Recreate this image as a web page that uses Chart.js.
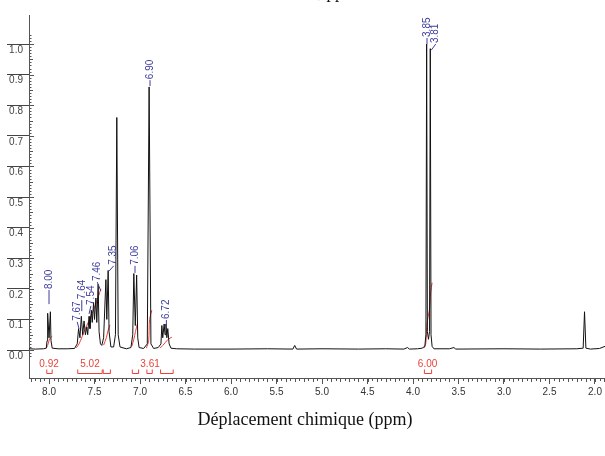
<!DOCTYPE html>
<html>
<head>
<meta charset="utf-8">
<script src="https://cdn.jsdelivr.net/npm/chart.js@4.4.0/dist/chart.umd.min.js"></script>
<style>
html, body { margin: 0; padding: 0; background: #fff; }
canvas { display: block; }
</style>
</head>
<body>
<canvas id="spectre" width="605" height="456"></canvas>
<script>
// spectre RMN 1H : déplacement (ppm) / intensité relative
const deplacement = [
  8.22, 8.15, 8.06, 8.03, 8.022, 8.015, 8.0, 7.985, 7.978, 7.965, 7.90, 7.80, 7.72,
  7.69, 7.675, 7.66, 7.645, 7.63, 7.615, 7.60, 7.585, 7.575, 7.56, 7.55, 7.535, 7.525,
  7.51, 7.50, 7.485, 7.475, 7.46, 7.45, 7.435, 7.42, 7.40, 7.375, 7.365, 7.35, 7.34,
  7.32, 7.29, 7.27, 7.255, 7.24, 7.22, 7.15, 7.10, 7.08, 7.068, 7.052, 7.037, 7.025,
  7.01, 6.96, 6.92, 6.90, 6.88, 6.85, 6.80, 6.77, 6.76, 6.75, 6.735, 6.725, 6.715,
  6.705, 6.695, 6.68, 6.66, 6.60, 6.40, 6.00, 5.60, 5.32, 5.30, 5.28, 5.00, 4.60,
  4.30, 4.10, 4.06, 4.04, 3.95, 3.90, 3.87, 3.858, 3.85, 3.842, 3.83, 3.818, 3.81,
  3.802, 3.79, 3.77, 3.60, 3.55, 3.53, 3.00, 2.60, 2.20, 2.13, 2.115, 2.10, 2.05,
  1.95, 1.89
];
const intensite = [
  0.004, 0.003, 0.004, 0.006, 0.03, 0.12, 0.04, 0.125, 0.03, 0.006, 0.004, 0.004, 0.005,
  0.02, 0.07, 0.04, 0.11, 0.05, 0.095, 0.05, 0.075, 0.05, 0.11, 0.07, 0.13, 0.09,
  0.155, 0.10, 0.17, 0.09, 0.215, 0.06, 0.02, 0.015, 0.04, 0.23, 0.10, 0.26, 0.06,
  0.01, 0.01, 0.05, 0.76, 0.05, 0.01, 0.004, 0.008, 0.05, 0.25, 0.08, 0.245, 0.04,
  0.008, 0.005, 0.02, 0.86, 0.02, 0.005, 0.008, 0.02, 0.08, 0.04, 0.085, 0.05, 0.085,
  0.04, 0.07, 0.02, 0.006, 0.004, 0.003, 0.003, 0.004, 0.003, 0.015, 0.003, 0.004, 0.003,
  0.004, 0.003, 0.008, 0.003, 0.004, 0.006, 0.012, 0.05, 1.0, 0.06, 0.035, 0.06, 0.985,
  0.05, 0.012, 0.004, 0.004, 0.008, 0.003, 0.004, 0.003, 0.004, 0.006, 0.125, 0.006, 0.003,
  0.005, 0.012
];

// courbes d'intégration (rouge)
const integralePpm = [
  [8.03, 8.015, 8.0, 7.985, 7.965],
  [7.70, 7.67, 7.60, 7.54, 7.48, 7.43],
  [7.40, 7.37, 7.35, 7.33],
  [7.09, 7.068, 7.05, 7.03],
  [6.93, 6.905, 6.895, 6.87],
  [6.78, 6.75, 6.72, 6.69, 6.65],
  [3.88, 3.86, 3.845, 3.82, 3.805, 3.79]
];
const integraleValeur = [
  [0.006, 0.015, 0.03, 0.04, 0.045],
  [0.007, 0.02, 0.07, 0.11, 0.155, 0.20],
  [0.016, 0.04, 0.065, 0.082],
  [0.012, 0.035, 0.06, 0.085],
  [0.006, 0.03, 0.10, 0.13],
  [0.006, 0.015, 0.025, 0.035, 0.042],
  [0.006, 0.02, 0.09, 0.13, 0.19, 0.22]
];

// crochets d'intégration et valeurs
const crochetDebut = [8.03, 7.69, 7.41, 7.09, 6.93, 6.78, 3.88];
const crochetFin = [7.96, 7.41, 7.32, 7.01, 6.86, 6.63, 3.79];
const integraleTexte = ["0.92", "5.02", "3.61", "6.00"];
const integraleTextePpm = [8.00, 7.55, 6.89, 3.84];

// étiquettes des pics (bleu)
const picTexte = ["8.00", "7.67", "7.64", "7.54", "7.46", "7.35", "7.06", "6.90", "6.72", "3.85", "3.81"];
const picTextePpm = [8.00, 7.69, 7.64, 7.54, 7.47, 7.29, 7.055, 6.89, 6.71, 3.846, 3.75];
const picTexteBase = [0.196, 0.092, 0.163, 0.144, 0.222, 0.275, 0.275, 0.882, 0.098, 1.02, 1.0];
const picTraitPpm = [8.00, 7.67, 7.64, 7.56, 7.43, 7.34, 7.055, 6.89, 6.71, 3.846, 3.80];
const picTraitBase = [0.15, 0.069, 0.127, 0.118, 0.193, 0.258, 0.252, 0.863, 0.078, 1.0, 0.98];

const ticksX = [8.0, 7.5, 7.0, 6.5, 6.0, 5.5, 5.0, 4.5, 4.0, 3.5, 3.0, 2.5, 2.0];
const ticksY = [0.0, 0.1, 0.2, 0.3, 0.4, 0.5, 0.6, 0.7, 0.8, 0.9, 1.0];

const titreX = "Déplacement chimique (ppm)";
const rouge = "#e8423a";
const bleu = "#3d3d9c";

const datasets = [];
datasets.push({
  data: deplacement.map((x, i) => ({ x: x, y: intensite[i] })),
  borderColor: "#111",
  borderWidth: 1,
  pointRadius: 0,
  tension: 0
});
integralePpm.forEach((ppm, k) => {
  datasets.push({
    data: ppm.map((x, i) => ({ x: x, y: integraleValeur[k][i] })),
    borderColor: rouge,
    borderWidth: 1,
    pointRadius: 0,
    tension: 0.3
  });
});

const annotations = {
  id: "annotations",
  afterDraw(chart) {
    const c = chart.ctx;
    const sx = chart.scales.x;
    const sy = chart.scales.y;
    const area = chart.chartArea;
    c.save();

    // petites graduations axe y
    c.strokeStyle = "#555";
    c.lineWidth = 1;
    for (let i = -2; i <= 103; i++) {
      const py = Math.round(sy.getPixelForValue(i / 100)) + 0.5;
      const len = i % 10 === 0 ? 5 : (i % 5 === 0 ? 4 : 2.5);
      c.beginPath();
      c.moveTo(area.left, py);
      c.lineTo(area.left + len, py);
      c.stroke();
    }
    // petites graduations axe x
    for (let i = 190; i <= 820; i += 5) {
      const px = Math.round(sx.getPixelForValue(i / 100)) + 0.5;
      if (px < area.left || px > area.right) continue;
      c.beginPath();
      c.moveTo(px, area.bottom);
      c.lineTo(px, area.bottom + (i % 10 === 0 ? 4 : 3));
      c.stroke();
    }

    // crochets d'intégration
    c.strokeStyle = rouge;
    const yb = Math.round(sy.getPixelForValue(-0.075)) + 0.5;
    crochetDebut.forEach((d, i) => {
      const x1 = sx.getPixelForValue(d);
      const x2 = sx.getPixelForValue(crochetFin[i]);
      c.beginPath();
      c.moveTo(x1 + 0.5, yb - 4);
      c.lineTo(x1 + 0.5, yb);
      c.lineTo(x2 - 0.5, yb);
      c.lineTo(x2 - 0.5, yb - 4);
      c.stroke();
    });
    c.fillStyle = rouge;
    c.font = '10px "Liberation Sans", Arial, sans-serif';
    c.textAlign = "center";
    c.textBaseline = "middle";
    integraleTexte.forEach((t, i) => {
      c.fillText(t, sx.getPixelForValue(integraleTextePpm[i]), sy.getPixelForValue(-0.046));
    });

    // étiquettes des pics
    c.strokeStyle = bleu;
    c.fillStyle = bleu;
    c.textAlign = "left";
    picTexte.forEach((t, i) => {
      const tx = sx.getPixelForValue(picTextePpm[i]);
      const ty = sy.getPixelForValue(picTexteBase[i]);
      c.beginPath();
      c.moveTo(sx.getPixelForValue(picTraitPpm[i]), sy.getPixelForValue(picTraitBase[i]));
      c.lineTo(tx, ty);
      c.stroke();
      c.save();
      c.translate(tx, ty - 1);
      c.rotate(-Math.PI / 2);
      c.fillText(t, 0, 0);
      c.restore();
    });

    // titre de l'axe x
    c.fillStyle = "#111";
    c.font = '18px "Liberation Serif", "Times New Roman", serif';
    c.textAlign = "center";
    c.textBaseline = "middle";
    c.fillText(titreX, 305, 420);

    // titre coupé en haut (seuls les jambages dépassent)
    c.textBaseline = "alphabetic";
    c.textAlign = "left";
    c.font = '17px "Liberation Serif", "Times New Roman", serif';
    c.fillText(", ppm", 318, -2);
    c.restore();
  }
};

const ctx = document.getElementById("spectre").getContext("2d");
const chart = new Chart(ctx, {
  type: "line",
  data: { datasets: datasets },
  options: {
    responsive: false,
    animation: false,
    layout: { padding: { top: 15, right: 0, bottom: 26, left: 0 } },
    plugins: { legend: { display: false }, tooltip: { enabled: false } },
    scales: {
      x: {
        type: "linear",
        reverse: true,
        min: 1.89,
        max: 8.22,
        afterBuildTicks: s => { s.ticks = ticksX.map(v => ({ value: v })); },
        afterFit: s => { s.height = 52; },
        grid: { drawOnChartArea: false, tickLength: 6, color: "#555" },
        border: { color: "#555" },
        ticks: {
          padding: 2, color: "#333", maxRotation: 0, autoSkip: false,
          font: { size: 10, family: '"Liberation Sans", Arial, sans-serif' },
          callback: v => v.toFixed(1)
        }
      },
      y: {
        min: -0.0915,
        max: 1.095,
        afterBuildTicks: s => { s.ticks = ticksY.map(v => ({ value: v })); },
        afterFit: s => { s.width = 29; },
        grid: { drawOnChartArea: false, tickLength: 22, color: "#444" },
        border: { color: "#555" },
        ticks: {
          padding: -16, labelOffset: 6, color: "#444",
          font: { size: 10, family: '"Liberation Sans", Arial, sans-serif' },
          callback: v => v.toFixed(1)
        }
      }
    }
  },
  plugins: [annotations]
});
</script>
</body>
</html>
